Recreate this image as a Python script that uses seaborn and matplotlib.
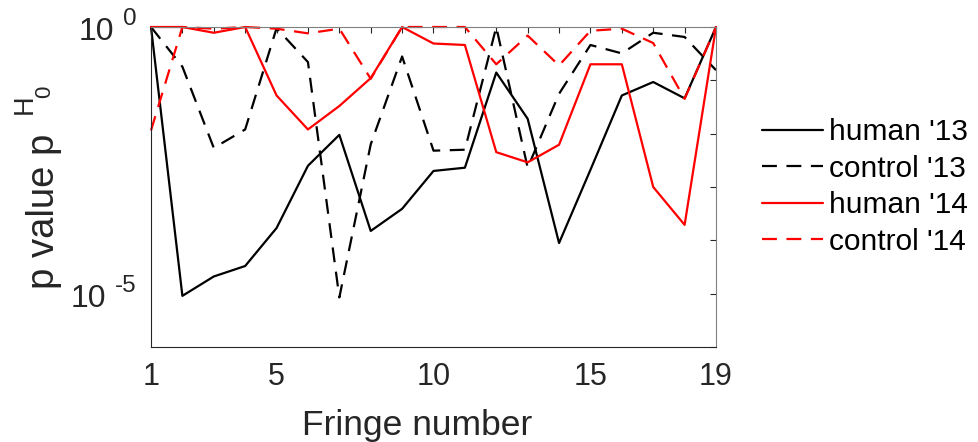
import numpy as np
import pandas as pd
import matplotlib
matplotlib.use("Agg")
import matplotlib.pyplot as plt
from matplotlib.ticker import FixedLocator, FixedFormatter, NullLocator, NullFormatter
import seaborn as sns

# Fringe index and p-values of the H0 test per fringe
fringe = list(range(1, 20))
human_13 = [1.0, 9.1e-6, 2.1e-5, 3.3e-5, 1.7e-4, 2.5e-3, 9.5e-3, 1.5e-4, 3.9e-4,
            2.0e-3, 2.3e-3, 0.14, 0.019, 8.9e-5, 2.1e-3, 0.052, 0.093, 0.046, 1.0]
control_13 = [1.0, 0.18, 5.4e-3, 0.012, 0.95, 0.22, 8.5e-6, 6.3e-3, 0.28,
              4.8e-3, 5.0e-3, 1.0, 2.3e-3, 0.056, 0.46, 0.32, 0.78, 0.65, 0.155]
human_14 = [1.0, 1.0, 0.78, 1.0, 0.052, 0.012, 0.033, 0.11, 1.0,
            0.49, 0.46, 4.5e-3, 2.9e-3, 6.2e-3, 0.20, 0.20, 1.0e-3, 1.95e-4, 1.0]
control_14 = [0.0115, 1.0, 0.93, 1.0, 0.93, 0.76, 0.93, 0.107, 1.0,
              1.0, 1.0, 0.20, 0.69, 0.19, 0.85, 0.93, 0.5, 0.045, 1.0]

series_names = ["human '13", "control '13", "human '14", "control '14"]
series_values = [human_13, control_13, human_14, control_14]
x_tick_labels = {1: "1", 5: "5", 10: "10", 15: "15", 19: "19"}
y_decades = [1e-6, 1e-5, 1e-4, 1e-3, 1e-2, 1e-1, 1e0]
y_labelled = {1e0: "0", 1e-5: "-5"}

sns.set_theme(style="white")
plt.rcParams["font.family"] = ["Liberation Sans", "DejaVu Sans"]

TEXT = "#262626"
W, H = 979, 442

fig = plt.figure(figsize=(W / 100, H / 100), dpi=100)
ax = fig.add_axes([151 / W, 1 - 347 / H, 565 / W, 320 / H])

colors = ["black", "black", "#ff0000", "#ff0000"]
dash = (0, (6.7, 4.3))
styles = ["-", dash, "-", dash]

for name, vals, c, ls in zip(series_names, series_values, colors, styles):
    df = pd.DataFrame({"fringe": fringe, "p": vals})
    sns.lineplot(data=df, x="fringe", y="p", ax=ax, color=c, linestyle=ls,
                 linewidth=1.6, label=name, clip_on=False)

ax.set_yscale("log")
ax.set_xlim(1, 19)
ax.set_ylim(1e-6, 1)

ax.xaxis.set_major_locator(FixedLocator(fringe))
ax.xaxis.set_major_formatter(FixedFormatter([x_tick_labels.get(f, "") for f in fringe]))
ax.xaxis.set_minor_locator(NullLocator())

ax.yaxis.set_major_locator(FixedLocator(y_decades))
ax.yaxis.set_major_formatter(NullFormatter())
ax.yaxis.set_minor_locator(NullLocator())

ax.tick_params(axis="both", which="major", direction="in", length=4, width=0.8,
               top=True, right=True, colors=TEXT)
ax.tick_params(axis="x", labelsize=22, pad=10.5)

# Power-of-ten labels: raised exponent, base "10" to its left
for val, expo in y_labelled.items():
    e = ax.annotate(expo, xy=(0, val), xycoords=("axes fraction", "data"),
                    xytext=(-10.5, 5.5), textcoords="offset points",
                    ha="right", va="center", fontsize=17.5, color=TEXT)
    ax.annotate("10", xy=(0, 0.5), xycoords=e, xytext=(-6.5, -9.2),
                textcoords="offset points", ha="right", va="center",
                fontsize=23, color=TEXT)

for side in ["left", "bottom"]:
    ax.spines[side].set_color(TEXT)
    ax.spines[side].set_linewidth(0.8)
for side in ["top", "right"]:
    ax.spines[side].set_color("#808080")
    ax.spines[side].set_linewidth(0.8)

ax.set_xlabel("Fringe number", fontsize=25.5, color=TEXT)
ax.xaxis.set_label_coords(0.471, -0.195)
ax.xaxis.label.set_va("top")

# y label "p value p" with a raised H and its subscript 0
ax.set_ylabel("p value p", fontsize=27.5, color=TEXT)
ax.yaxis.set_label_coords(-0.1575, 0.4234)
fig.text(25 / W, 1 - 104 / H, "H", rotation=90, ha="center", va="center",
         fontsize=19.5, color=TEXT)
fig.text(45 / W, 1 - 92 / H, "0", rotation=90, ha="center", va="center",
         fontsize=16, color=TEXT)

ax.legend(loc="center left", bbox_to_anchor=(1.06, 0.5), frameon=False,
          fontsize=21.5, handlelength=2.04, handletextpad=0.2, labelspacing=0.28,
          borderaxespad=0, labelcolor="black")

fig.savefig("out.png", dpi=100, facecolor="white")
